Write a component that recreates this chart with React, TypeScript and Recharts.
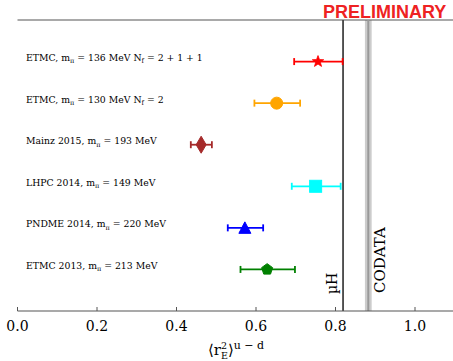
import React from 'react';
import { ScatterChart, Scatter, XAxis, YAxis, ErrorBar, ReferenceLine, ReferenceArea } from 'recharts';

// ---- data ----
const labelParts: string[][] = [
  ['ETMC, m', 'π', ' = 136 MeV N', 'f', ' = 2 + 1 + 1'],
  ['ETMC, m', 'π', ' = 130 MeV N', 'f', ' = 2'],
  ['Mainz 2015, m', 'π', ' = 193 MeV'],
  ['LHPC 2014, m', 'π', ' = 149 MeV'],
  ['PNDME 2014, m', 'π', ' = 220 MeV'],
  ['ETMC 2013, m', 'π', ' = 213 MeV'],
];
const rowPositions = [6, 5, 4, 3, 2, 1];
const centers = [0.756, 0.652, 0.462, 0.75, 0.572, 0.628];
const lowerBounds = [0.696, 0.596, 0.436, 0.69, 0.529, 0.561];
const upperBounds = [0.818, 0.711, 0.489, 0.813, 0.618, 0.698];
const colors = ['#ff0000', '#ffa500', '#a52a2a', '#00ffff', '#0000ff', '#008000'];
const markers = ['star', 'circle', 'thindiamond', 'square', 'triangle', 'pentagon'];
const xTicks = [0, 0.2, 0.4, 0.6, 0.8, 1.0];
const muHValue = 0.819;
const codataCenter = 0.8825;
const codataLow = 0.874;
const codataHigh = 0.891;

const SERIF = '"DejaVu Serif", serif';
const FRAME = '#555555';

function polyPoints(cx: number, cy: number, n: number, rOuter: number, rInner: number | null, rot: number) {
  const pts: string[] = [];
  const total = rInner == null ? n : n * 2;
  for (let k = 0; k < total; k++) {
    const r = rInner == null ? rOuter : k % 2 === 0 ? rOuter : rInner;
    const a = rot + (k * 2 * Math.PI) / total;
    pts.push(`${cx + r * Math.sin(a)},${cy - r * Math.cos(a)}`);
  }
  return pts.join(' ');
}

function Marker(props: any) {
  const { cx, cy, kind, color } = props;
  if (cx == null || cy == null) return null;
  switch (kind) {
    case 'star':
      return <polygon points={polyPoints(cx, cy, 5, 6, 2.5, 0)} fill={color} stroke={color} strokeWidth={0.8} />;
    case 'circle':
      return <circle cx={cx} cy={cy} r={6} fill={color} stroke={color} />;
    case 'thindiamond':
      return <polygon points={`${cx},${cy - 8.5} ${cx + 5},${cy} ${cx},${cy + 8.5} ${cx - 5},${cy}`} fill={color} stroke={color} />;
    case 'square':
      return <rect x={cx - 6} y={cy - 6} width={12} height={12} fill={color} stroke={color} />;
    case 'triangle':
      return <polygon points={`${cx},${cy - 6} ${cx + 6},${cy + 5.5} ${cx - 6},${cy + 5.5}`} fill={color} stroke={color} />;
    case 'pentagon':
      return <polygon points={polyPoints(cx, cy, 5, 5.8, null, 0)} fill={color} stroke={color} />;
    default:
      return null;
  }
}

function RowLabel(props: any) {
  const { cx, cy, payload } = props;
  if (cx == null || cy == null) return null;
  const parts: string[] = labelParts[payload.idx];
  return (
    <text x={cx + 8.5} y={cy - 0.5} fontFamily={SERIF} fontSize={9.3} fill="#000">
      {parts.map((p, j) =>
        j % 2 === 1 ? (
          <tspan key={j} dy={2.3} fontSize={6.5}>{p}</tspan>
        ) : (
          <tspan key={j} dy={j === 0 ? 0 : -2.3}>{p.replace(/ /g, '\u00a0')}</tspan>
        )
      )}
    </text>
  );
}

function XLabel() {
  return (
    <text x={236} y={355} textAnchor="middle" fontFamily={SERIF} fontSize={15} fill="#000">
      <tspan>⟨r</tspan>
      <tspan dy={-6.5} fontSize={9.5}>2</tspan>
      <tspan dx={-6} dy={10.5} fontSize={9.5}>E</tspan>
      <tspan dy={-4}>⟩</tspan>
      <tspan dy={-6} fontSize={11}>u − d</tspan>
    </text>
  );
}

export default function App() {
  const seriesData = centers.map((c, i) => [
    { x: c, y: rowPositions[i], err: [c - lowerBounds[i], upperBounds[i] - c] },
  ]);
  const labelData = rowPositions.map((y, i) => ({ x: 0, y, idx: i }));
  return (
    <div style={{ position: 'absolute', left: 0, top: 0, width: 453, height: 361, overflow: 'hidden', background: '#fff' }}>
      <ScatterChart width={460} height={361} margin={{ top: 20, right: 5.25, bottom: 20, left: 17.5 }}>
        <XAxis
          type="number"
          dataKey="x"
          domain={[0, 1.1]}
          ticks={xTicks}
          allowDataOverflow
          tickFormatter={(v: number) => v.toFixed(1)}
          tick={{ fontFamily: SERIF, fontSize: 14, fill: '#000' }}
          tickSize={-4}
          tickMargin={14.5}
          height={30}
          stroke={FRAME}
          axisLine={{ stroke: FRAME, strokeWidth: 1.2 }}
          tickLine={{ stroke: FRAME }}
          label={<XLabel />}
        />
        <YAxis type="number" dataKey="y" domain={[0, 7]} width={0} tick={false} tickLine={false} axisLine={{ stroke: FRAME, strokeWidth: 1.2 }} allowDataOverflow />
        <ReferenceLine y={7} stroke={FRAME} strokeWidth={1.2} ifOverflow="visible" />
        <ReferenceArea x1={codataLow} x2={codataHigh} fill="#cccccc" fillOpacity={1} stroke="none" ifOverflow="visible" />
        <ReferenceLine x={codataCenter} stroke="#999999" strokeWidth={2} />
        <ReferenceLine
          x={muHValue}
          stroke="#444444"
          strokeWidth={1.8}
          label={(p: any) => (
            <text x={p.viewBox.x - 6} y={294} transform={`rotate(-90 ${p.viewBox.x - 6} 294)`} fontFamily={SERIF} fontSize={14} fill="#000">µH</text>
          )}
        />
        <ReferenceLine
          x={codataCenter}
          stroke="none"
          label={(p: any) => (
            <text x={p.viewBox.x + 16.5} y={293} transform={`rotate(-90 ${p.viewBox.x + 16.5} 293)`} fontFamily={SERIF} fontSize={15} fill="#000">CODATA</text>
          )}
        />
        <Scatter data={labelData} shape={(p: any) => <RowLabel {...p} />} isAnimationActive={false} />
        {seriesData.map((d, i) => (
          <Scatter
            key={i}
            data={d}
            fill={colors[i]}
            isAnimationActive={false}
            shape={(p: any) => <Marker {...p} kind={markers[i]} color={colors[i]} />}
          >
            <ErrorBar dataKey="err" direction="x" width={3.5} stroke={colors[i]} strokeWidth={1.8} isAnimationActive={false} />
          </Scatter>
        ))}
      </ScatterChart>
      <div
        style={{
          position: 'absolute',
          left: 323,
          top: 2,
          fontFamily: '"Liberation Sans", Arial, sans-serif',
          fontWeight: 'bold',
          fontSize: 18,
          lineHeight: '20px',
          color: '#ee2222',
        }}
      >
        PRELIMINARY
      </div>
    </div>
  );
}
